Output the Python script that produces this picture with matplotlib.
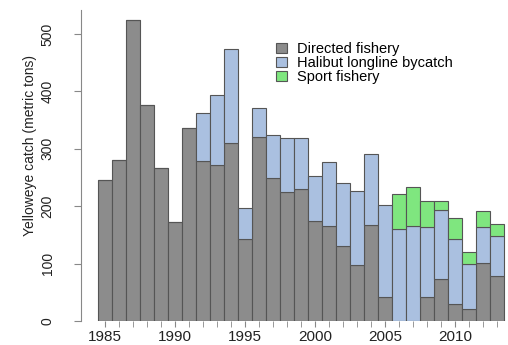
import matplotlib
matplotlib.use("Agg")
import matplotlib.pyplot as plt
import numpy as np

plt.rcParams['font.family'] = ['Liberation Sans', 'DejaVu Sans']

years = np.arange(1985, 2014)
directed = [246, 281, 525, 376, 266, 173, 336, 279, 272, 310, 143, 320, 249, 225, 230,
            175, 166, 130, 97, 168, 42, 0, 0, 42, 74, 29, 21, 101, 79]
halibut = [0, 0, 0, 0, 0, 0, 0, 83, 122, 164, 54, 51, 76, 94, 89,
           77, 111, 111, 130, 123, 160, 160, 165, 121, 120, 114, 78, 62, 69]
sport = [0, 0, 0, 0, 0, 0, 0, 0, 0, 0, 0, 0, 0, 0, 0,
         0, 0, 0, 0, 0, 0, 61, 68, 47, 16, 37, 22, 29, 21]

labels = ["Directed fishery", "Halibut longline bycatch", "Sport fishery"]
colors = ["#8c8c8c", "#aac0e0", "#7fe67f"]
edge = "#555555"

W, H = 508, 345
fig = plt.figure(figsize=(W / 100, H / 100), dpi=100)
ax = fig.add_axes([81 / W, 24 / H, 438.5 / W, 311 / H])

d = np.array(directed)
h = np.array(halibut)
s = np.array(sport)
ax.bar(years, d, width=1, color=colors[0], edgecolor=edge, linewidth=0.8, label=labels[0])
ax.bar(years, h, width=1, bottom=d, color=colors[1], edgecolor=edge, linewidth=0.8, label=labels[1])
ax.bar(years[s > 0], s[s > 0], width=1, bottom=(d + h)[s > 0], color=colors[2],
       edgecolor=edge, linewidth=0.8, label=labels[2])

ax.set_xlim(1983.29, 1983.29 + 31.32)
ax.set_ylim(0, 542)

for side in ["top", "right", "bottom"]:
    ax.spines[side].set_visible(False)
ax.spines["left"].set_color("#888888")

ax.set_yticks([0, 100, 200, 300, 400, 500])
ax.set_yticklabels(["0", "100", "200", "300", "400", "500"], rotation=90, va="center")
ax.tick_params(axis="y", length=5, color="#888888", pad=14, labelsize=10, labelcolor="#222222")

ax.set_xticks([1985, 1990, 1995, 2000, 2005, 2010])
ax.set_xticks(years, minor=True)
ax.tick_params(axis="x", which="both", length=4, color="#888888", pad=2.5,
               labelsize=11, labelcolor="#222222")

ax.set_ylabel("Yelloweye catch (metric tons)", fontsize=10, color="#222222")
ax.yaxis.set_label_coords(-0.100, 0.563)

ax.legend(loc="upper left", bbox_to_anchor=(276 / W, 1 - 42 / H), bbox_transform=fig.transFigure,
          frameon=False, fontsize=10.5, labelspacing=0.0, handlelength=0.75, handleheight=0.75,
          handletextpad=0.7, borderpad=0, borderaxespad=0)

fig.savefig("out.png", dpi=100)
